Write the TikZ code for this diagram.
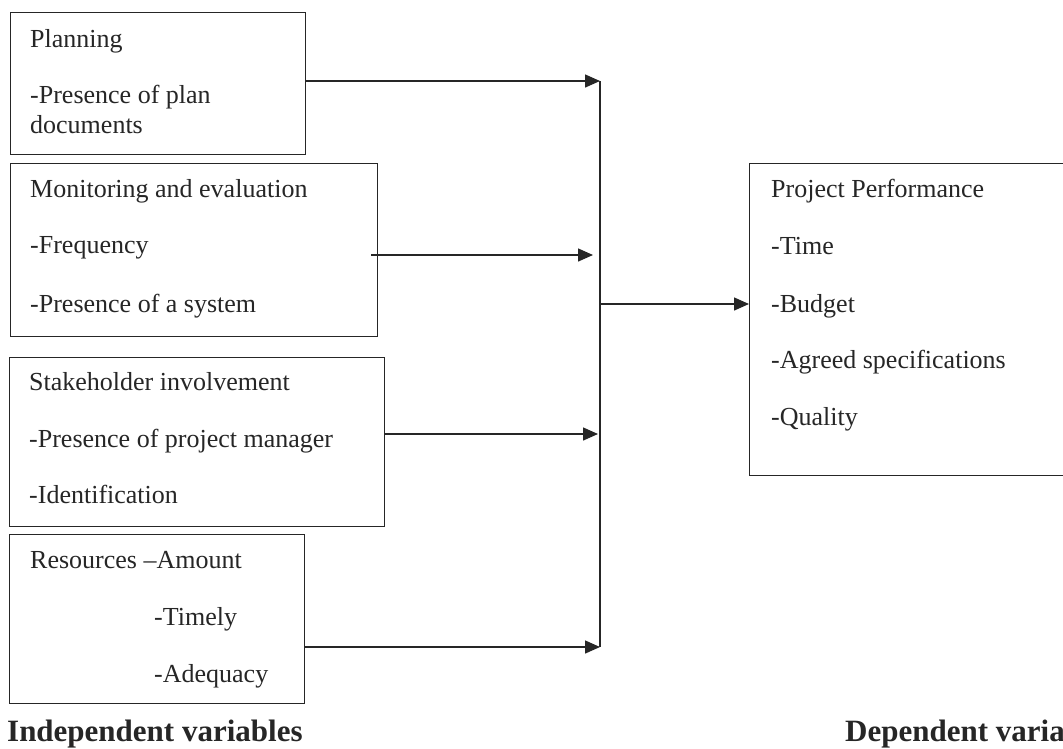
\documentclass[tikz,border=0pt]{standalone}
\usepackage{fontspec}
\setmainfont{Liberation Serif}
\usetikzlibrary{arrows.meta}
\begin{document}
\begin{tikzpicture}[x=1pt,y=-1pt,
  box/.style={draw=black!85, line width=1.4pt, rectangle, inner sep=0pt, anchor=north west},
  txt/.style={anchor=base west, inner sep=0pt, text=black!85, font=\fontsize{26pt}{28pt}\selectfont},
  head/.style={anchor=base west, inner sep=0pt, text=black!85, font=\fontsize{31pt}{33pt}\selectfont\bfseries},
  link/.style={draw=black!85, line width=1.4pt},
  arr/.style={link, -{Triangle[length=15pt,width=13pt]}}]
\clip (0,0) rectangle (1063,748);
\fill[white] (0,0) rectangle (1063,748);
% boxes
\node[box, minimum width=295pt, minimum height=142pt] (plan) at (10,12) {};
\node[box, minimum width=367pt, minimum height=173pt] (mon) at (10,163) {};
\node[box, minimum width=375pt, minimum height=169pt] (stake) at (9,357) {};
\node[box, minimum width=295pt, minimum height=169pt] (res) at (9,534) {};
\node[box, minimum width=330pt, minimum height=312pt] (pp) at (749,163) {};
% texts
\node[txt] (t1a) at (30,47) {Planning};
\node[txt] (t1b) at (30,103) {-Presence of plan};
\node[txt] (t1c) at (30,133) {documents};
\node[txt] (t2a) at (30,197) {Monitoring and evaluation};
\node[txt] (t2b) at (30,253) {-Frequency};
\node[txt] (t2c) at (30,312) {-Presence of a system};
\node[txt] (t3a) at (29,390) {Stakeholder involvement};
\node[txt] (t3b) at (29,447) {-Presence of project manager};
\node[txt] (t3c) at (29,503) {-Identification};
\node[txt] (t4a) at (30,568) {Resources –Amount};
\node[txt] (t4b) at (154,625) {-Timely};
\node[txt] (t4c) at (154,682) {-Adequacy};
\node[txt] (p1) at (771,197) {Project Performance};
\node[txt] (p2) at (771,254) {-Time};
\node[txt] (p3) at (771,312) {-Budget};
\node[txt] (p4) at (771,368) {-Agreed specifications};
\node[txt] (p5) at (771,425) {-Quality};
\node[head] (indep) at (7,741) {Independent variables};
\node[head] (dep) at (845,741) {Dependent variables};
% junction coordinates
\coordinate (jtop) at (600,81);
\coordinate (j2) at (593,255);
\coordinate (s2) at (371,255);
\coordinate (j3) at (598,434);
\coordinate (jbot) at (600,647);
\coordinate (jmid) at (600,304);
% connectors
\draw[arr] (plan.east |- jtop) -- (jtop);
\draw[arr] (s2) -- (j2);
\draw[arr] (stake.east |- j3) -- (j3);
\draw[arr] (res.east |- jbot) -- (jbot);
\draw[link] (jtop) -- (jbot);
\draw[arr] (jmid) -- (pp.west |- jmid);
\end{tikzpicture}
\end{document}
